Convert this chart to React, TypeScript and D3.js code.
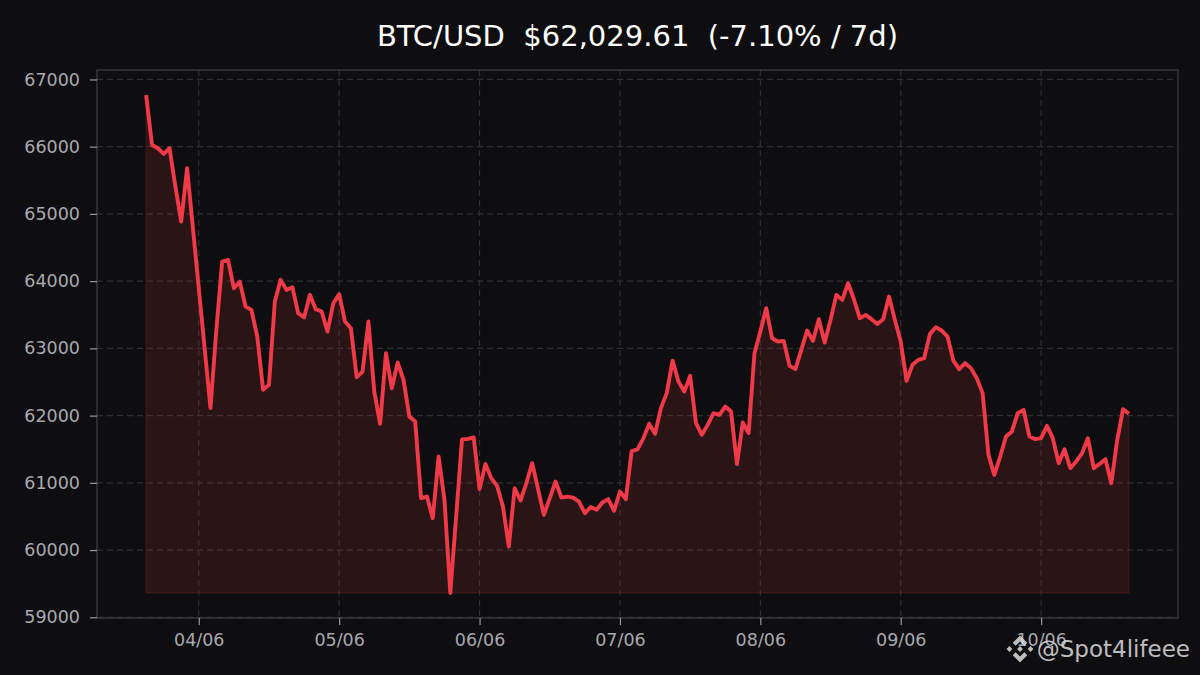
import React, { useEffect, useRef } from 'react';
import * as d3 from 'd3';

// hourly closes, 03/06 15:00 -> 10/06 15:00 (UTC)
const START = '2024-06-03T15:00:00Z';
const prices = [
  66770, 66026, 65977, 65892, 65977, 65406, 64886, 65680, 64787, 63895,
  63003, 62111, 63271, 64291, 64316, 63895, 63994, 63622, 63572, 63176,
  62383, 62457, 63696, 64019, 63870, 63910, 63523, 63460, 63796, 63583,
  63548, 63250, 63672, 63806, 63399, 63300, 62571, 62655, 63399, 62357,
  61877, 62929, 62408, 62790, 62532, 61986, 61911, 60773, 60796, 60475,
  61391, 60747, 59360, 60500, 61645, 61654, 61674, 60906, 61282, 61070,
  60955, 60648, 60053, 60921, 60737, 60995, 61293, 60906, 60524, 60773,
  61020, 60781, 60796, 60780, 60722, 60549, 60639, 60599, 60707, 60757,
  60584, 60871, 60757, 61472, 61498, 61662, 61877, 61729, 62111, 62334,
  62818, 62506, 62357, 62591, 61888, 61714, 61862, 62036, 62011, 62135,
  62060, 61278, 61897, 61739, 62929, 63250, 63598, 63152, 63102, 63110,
  62740, 62691, 62978, 63265, 63112, 63434, 63087, 63424, 63796, 63721,
  63969, 63731, 63449, 63498, 63434, 63364, 63434, 63771, 63424, 63102,
  62517, 62755, 62829, 62854, 63216, 63315, 63265, 63176, 62818, 62691,
  62780, 62706, 62557, 62334, 61416, 61119, 61391, 61689, 61764, 62036,
  62085, 61689, 61650, 61664, 61848, 61664, 61293, 61498, 61218, 61318,
  61442, 61664, 61218, 61282, 61352, 60995, 61630, 62095, 62029.61,
];
const title = 'BTC/USD  $62,029.61  (-7.10% / 7d)';
const watermark = '@Spot4lifeee';

const width = 1200;
const height = 675;
const margin = { top: 70, right: 22, bottom: 57, left: 97 };

const BG = '#0e0e10';
const LINE = '#f03a47';
const FONT = '"DejaVu Sans", sans-serif';

export default function App() {
  const svgRef = useRef<SVGSVGElement>(null);

  useEffect(() => {
    document.body.style.margin = '0';
    document.body.style.background = BG;
    if (!svgRef.current) return;

    const svg = d3.select(svgRef.current);
    svg.selectAll('*').remove();

    const innerWidth = width - margin.left - margin.right;
    const innerHeight = height - margin.top - margin.bottom;

    const t0 = new Date(START).getTime();
    const data = prices.map((v, i) => ({ date: new Date(t0 + i * 3600 * 1000), value: v }));

    // matplotlib-style 5% margins
    const [dMin, dMax] = d3.extent(data, d => d.date.getTime()) as [number, number];
    const [vMin, vMax] = d3.extent(data, d => d.value) as [number, number];
    const dPad = (dMax - dMin) * 0.05;
    const vPad = (vMax - vMin) * 0.05;

    const x = d3.scaleUtc()
      .domain([new Date(dMin - dPad), new Date(dMax + dPad)])
      .range([0, innerWidth]);
    const y = d3.scaleLinear()
      .domain([vMin - vPad, vMax + vPad])
      .range([innerHeight, 0]);

    svg.append('rect')
      .attr('width', width)
      .attr('height', height)
      .attr('fill', BG);

    const g = svg.append('g')
      .attr('transform', `translate(${margin.left}, ${margin.top})`);

    const xTicks = x.ticks(d3.utcDay.every(1)!);
    const yTicks = y.ticks(8);

    // grid
    g.append('g')
      .selectAll('line')
      .data(yTicks)
      .enter().append('line')
      .attr('x1', 0)
      .attr('x2', innerWidth)
      .attr('y1', d => y(d))
      .attr('y2', d => y(d))
      .attr('stroke', '#2f2f33')
      .attr('stroke-width', 1.2)
      .attr('stroke-dasharray', '6,4');

    g.append('g')
      .selectAll('line')
      .data(xTicks)
      .enter().append('line')
      .attr('x1', d => x(d))
      .attr('x2', d => x(d))
      .attr('y1', 0)
      .attr('y2', innerHeight)
      .attr('stroke', '#2f2f33')
      .attr('stroke-width', 1.2)
      .attr('stroke-dasharray', '6,4');

    // area down to the lowest price
    const area = d3.area<{ date: Date; value: number }>()
      .x(d => x(d.date))
      .y0(y(vMin))
      .y1(d => y(d.value));

    g.append('path')
      .datum(data)
      .attr('d', area)
      .attr('fill', 'rgba(240, 58, 71, 0.13)')
      .attr('stroke', 'rgba(240, 58, 71, 0.13)')
      .attr('stroke-width', 1.5);

    const line = d3.line<{ date: Date; value: number }>()
      .x(d => x(d.date))
      .y(d => y(d.value));

    g.append('path')
      .datum(data)
      .attr('d', line)
      .attr('fill', 'none')
      .attr('stroke', LINE)
      .attr('stroke-width', 3.9)
      .attr('stroke-linejoin', 'round');

    // frame
    g.append('rect')
      .attr('width', innerWidth)
      .attr('height', innerHeight)
      .attr('fill', 'none')
      .attr('stroke', '#3d3d40')
      .attr('stroke-width', 1.3);

    // axes
    const xAxis = g.append('g')
      .attr('transform', `translate(0, ${innerHeight})`)
      .call(d3.axisBottom(x)
        .tickValues(xTicks)
        .tickFormat(d => d3.utcFormat('%d/%m')(d as Date))
        .tickSize(7)
        .tickSizeOuter(0)
        .tickPadding(9));

    const yAxis = g.append('g')
      .call(d3.axisLeft(y)
        .tickValues(yTicks)
        .tickFormat(d3.format('d'))
        .tickSize(7)
        .tickSizeOuter(0)
        .tickPadding(10));

    [xAxis, yAxis].forEach(a => {
      a.select('.domain').remove();
      a.selectAll('.tick line')
        .attr('stroke', '#9a9a9a')
        .attr('stroke-width', 1.2);
      a.selectAll('.tick text')
        .style('fill', '#a9a9ad')
        .style('font-family', FONT)
        .style('font-size', '17.5px');
    });

    // title
    svg.append('text')
      .attr('x', margin.left + innerWidth / 2)
      .attr('y', 46)
      .attr('text-anchor', 'middle')
      .style('fill', '#ffffff')
      .style('font-family', FONT)
      .style('font-size', '29px')
      .style('white-space', 'pre')
      .text(title);

    // watermark (sits over the last date label, as in the source)
    const wm = svg.append('g').attr('opacity', 0.85);
    const s = 1.12;
    wm.append('path')
      .attr('transform', `translate(${1020 - 16 * s}, ${649 - 16 * s}) scale(${s})`)
      .attr('fill', '#dcdcdc')
      .attr('d', [
        'M16 4 L22.5 10.5 L19.9 13.1 L16 9.2 L12.1 13.1 L9.5 10.5 Z',
        'M16 28 L22.5 21.5 L19.9 18.9 L16 22.8 L12.1 18.9 L9.5 21.5 Z',
        'M4 16 L6.6 13.4 L9.2 16 L6.6 18.6 Z',
        'M28 16 L25.4 13.4 L22.8 16 L25.4 18.6 Z',
        'M16 13.4 L18.6 16 L16 18.6 L13.4 16 Z',
      ].join(' '));
    wm.append('text')
      .attr('x', 1190)
      .attr('y', 657)
      .attr('text-anchor', 'end')
      .style('fill', '#dcdcdc')
      .style('font-family', FONT)
      .style('font-size', '23px')
      .text(watermark);
  }, []);

  return (
    <svg
      ref={svgRef}
      width={width}
      height={height}
      viewBox={`0 0 ${width} ${height}`}
      style={{ display: 'block' }}
    />
  );
}
